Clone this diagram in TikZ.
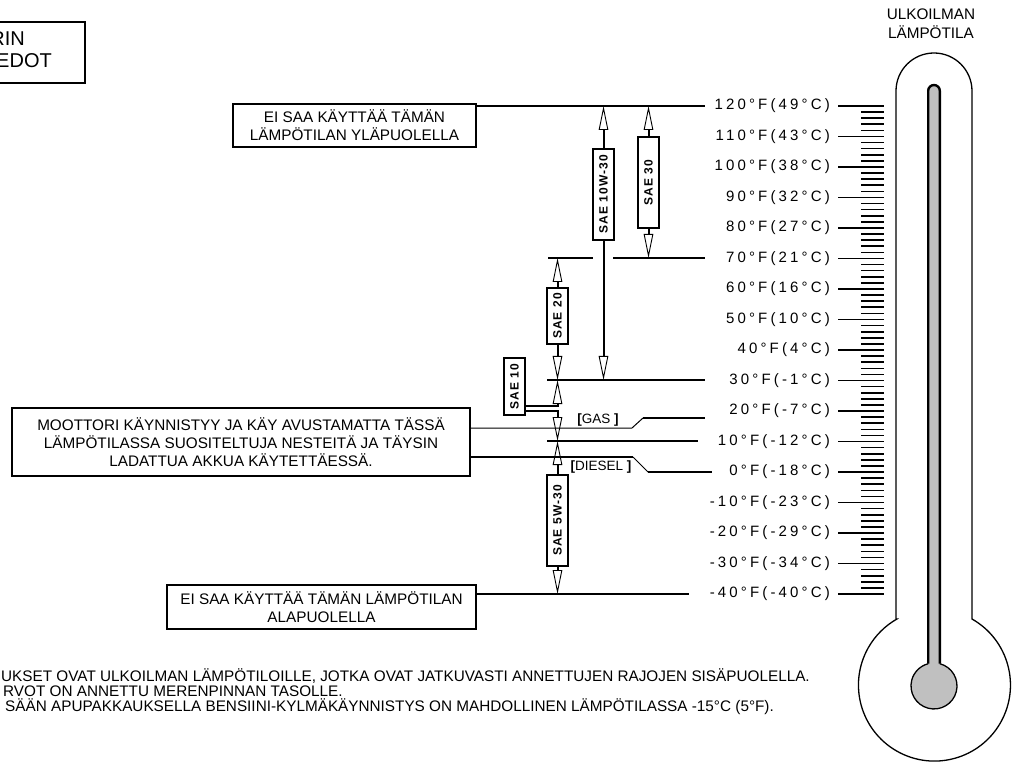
\documentclass[tikz,border=0pt]{standalone}
\usepackage{fontspec}
\setmainfont{Liberation Sans}
\newfontfamily\tempfont{Liberation Sans}[LetterSpace=21]
\newfontfamily\saefont{Liberation Sans}[LetterSpace=9]
\usetikzlibrary{arrows.meta}
\definecolor{mercury}{HTML}{C0C0C0}
\begin{document}
\begin{tikzpicture}[x=1pt,y=-1pt,
  boxline/.style={draw, line width=1.8pt, inner sep=0pt, align=center, font=\fontsize{15.3}{18}\selectfont},
  conn/.style={line width=2pt},
  thinline/.style={line width=1pt},
  tip/.style={-{Triangle[open,length=24pt 0,width=9.5pt 0,line width=0.9pt 0]}},
  saebox/.style={draw, line width=1.6pt, fill=white, rotate=90, inner sep=0pt, minimum height=21pt, font=\saefont\bfseries\fontsize{12}{12}\selectfont},
  templabel/.style={anchor=east, inner sep=0pt, font=\tempfont\fontsize{15}{15}\selectfont},
  tickline/.style={line width=1.6pt},
  tagtext/.style={inner sep=0pt, font=\fontsize{13.5}{14}\selectfont},
  notetext/.style={anchor=base west, inner sep=0pt, font=\fontsize{15.3}{15}\selectfont},
]
\useasboundingbox (0,0) rectangle (1013,762);
\clip (0,0) rectangle (1013,762);

% top-left cut box
\node[draw, line width=1.8pt, minimum width=150pt, minimum height=61pt, anchor=north east, inner sep=0pt] (infobox) at (86,21) {};
\node[anchor=east, inner sep=0pt, font=\fontsize{20}{22}\selectfont] (info1) at (25,39) {RIN};
\node[anchor=east, inner sep=0pt, font=\fontsize{20}{22}\selectfont] (info2) at (52,61) {EDOT};

% title
\node[align=center, inner sep=0pt, font=\fontsize{15.3}{19}\selectfont] (title) at (931,24) {ULKOILMAN\\LÄMPÖTILA};

% boxes
\node[boxline, minimum width=243pt, minimum height=43pt] (upper) at (354.5,125.5) {EI SAA KÄYTTÄÄ TÄMÄN\\LÄMPÖTILAN YLÄPUOLELLA};
\node[boxline, minimum width=458pt, minimum height=68pt] (start) at (241,442) {MOOTTORI KÄYNNISTYY JA KÄY AVUSTAMATTA TÄSSÄ\\LÄMPÖTILASSA SUOSITELTUJA NESTEITÄ JA TÄYSIN\\LADATTUA AKKUA KÄYTETTÄESSÄ.};
\node[boxline, minimum width=309pt, minimum height=44pt] (lower) at (321.5,607) {EI SAA KÄYTTÄÄ TÄMÄN LÄMPÖTILAN\\ALAPUOLELLA};

% level coordinates
\coordinate (e120) at (705,106);
\coordinate (a70) at (548,258);
\coordinate (b70) at (593,258);
\coordinate (c70) at (613,258);
\coordinate (e70) at (705,258);
\coordinate (a30) at (547,380);
\coordinate (e30) at (705,380);
\coordinate (a10) at (547,441);
\coordinate (e10) at (698,441);
\coordinate (g1) at (632,428);
\coordinate (g2) at (643,418);
\coordinate (g3) at (705,418);
\coordinate (d1) at (633,457);
\coordinate (d2) at (648,472);
\coordinate (d3) at (712,472);
\coordinate (eM40) at (689,594);

% level lines
\draw[conn] (upper.east |- e120) -- (e120);
\draw[conn] (a70) -- (b70);
\draw[conn] (c70) -- (e70);
\draw[conn] (a30) -- (e30);
\draw[conn] (a10) -- (e10);
\draw[thinline] (start.east |- g1) -- (g1) -- (g2);
\draw[conn] (g2) -- (g3);
\draw[conn] (start.east |- d1) -- (d1);
\draw[thinline] (d1) -- (d2);
\draw[conn] (d2) -- (d3);
\draw[conn] (lower.east |- eM40) -- (eM40);

\node[tagtext] (gas) at (598,420.5) {{\bfseries[}GAS {\bfseries]}};
\node[tagtext] (diesel) at (601,467.3) {{\bfseries[}DIESEL {\bfseries]}};

% SAE boxes
\node[saebox, minimum width=91pt] (s10w30) at (603.5,194.5) {SAE 10W-30};
\node[saebox, minimum width=91pt] (s30) at (648.5,182.5) {SAE 30};
\node[saebox, minimum width=56pt] (s20) at (557.5,316) {SAE 20};
\node[saebox, minimum width=57pt] (s10) at (514.5,386.5) {SAE 10};
\node[saebox, minimum width=91pt] (s5w30) at (557.5,520.5) {SAE 5W-30};

\coordinate (k1) at (557.5,406);
\coordinate (k2) at (557.5,411);

\draw[conn,tip] (s10w30.east) -- (s10w30.east |- e120);
\draw[conn,tip] (s10w30.west) -- (s10w30.west |- e30);
\draw[conn,tip] (s30.east) -- (s30.east |- e120);
\draw[conn,tip] (s30.west) -- (s30.west |- e70);
\draw[conn,tip] (s20.east) -- (s20.east |- e70);
\draw[conn,tip] (s20.west) -- (s20.west |- e30);
\draw[conn,tip] (s10.south |- k1) -- (k1) -- (k1 |- e30);
\draw[conn,tip] (s10.south |- k2) -- (k2) -- (k2 |- e10);
\draw[conn,tip] (s5w30.east) -- (s5w30.east |- e10);
\draw[conn,tip] (s5w30.west) -- (s5w30.west |- eM40);

% temperature labels and major ticks
\foreach \lab [count=\i from 0] in {120°F(49°C),110°F(43°C),100°F(38°C),90°F(32°C),80°F(27°C),70°F(21°C),60°F(16°C),50°F(10°C),40°F(4°C),30°F(-1°C),20°F(-7°C),10°F(-12°C),0°F(-18°C),-10°F(-23°C),-20°F(-29°C),-30°F(-34°C),-40°F(-40°C)} {
  \node[templabel] (lab\i) at (830,106+\i*30.5) {\lab};
  \draw[tickline] (838,106+\i*30.5) -- (884,106+\i*30.5);
}
% minor ticks
\foreach \j in {0,...,80} {
  \draw[tickline] (861,106+\j*6.1) -- (884,106+\j*6.1);
}

% thermometer
\begin{scope}[y=1pt, shift={(0pt,-762pt)}]
  \draw[line width=1.3pt, fill=white] (896,143) -- (896,671) arc[start angle=180, end angle=0, radius=38] -- (972,143) arc[start angle=60.4, end angle=-240.4, radius=76] -- cycle;
  \fill[mercury] (928.2,98.3) -- (928.2,671.2) arc[start angle=180,end angle=0,radius=5.8] -- (939.8,98.3) arc[start angle=75.4,end angle=-255.4,radius=23] -- cycle;
  \draw[line width=1.3pt] (939.8,98.3) arc[start angle=75.4,end angle=-255.4,radius=23];
  \draw[line width=2.4pt] (928.2,98.3) -- (928.2,671.2) arc[start angle=180,end angle=0,radius=5.8] -- (939.8,98.3);
\end{scope}

% notes
\node[notetext] (note1) at (1,681) {UKSET OVAT ULKOILMAN LÄMPÖTILOILLE, JOTKA OVAT JATKUVASTI ANNETTUJEN RAJOJEN SISÄPUOLELLA.};
\node[notetext] (note2) at (3,696) {RVOT ON ANNETTU MERENPINNAN TASOLLE.};
\node[notetext] (note3) at (5,711) {SÄÄN APUPAKKAUKSELLA BENSIINI-KYLMÄKÄYNNISTYS ON MAHDOLLINEN LÄMPÖTILASSA -15°C (5°F).};
\end{tikzpicture}
\end{document}
